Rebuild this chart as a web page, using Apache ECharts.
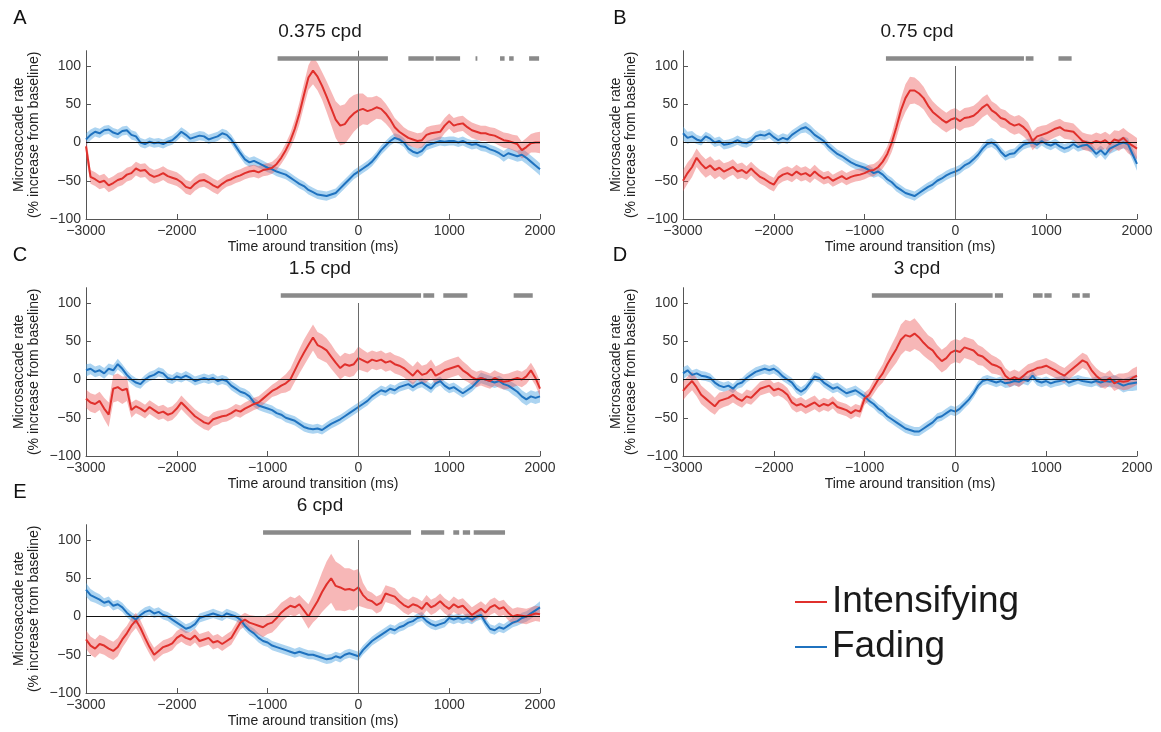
<!DOCTYPE html>
<html>
<head>
<meta charset="utf-8">
<script src="https://cdn.jsdelivr.net/npm/echarts@6/dist/echarts.min.js"></script>
<style>
  html, body { margin: 0; padding: 0; background: #ffffff; }
  #chart { width: 1161px; height: 732px; }
</style>
</head>
<body>
<div id="chart"></div>
<script>
// Microsaccade rate around perceptual transitions (intensifying vs fading),
// one panel per spatial frequency. Samples every 50 ms from -3000 to 2000 ms.
const T_START = -3000;
const T_STEP = 50;

const panelLetters = ['A', 'B', 'C', 'D', 'E'];
const panelTitles = ['0.375 cpd', '0.75 cpd', '1.5 cpd', '3 cpd', '6 cpd'];
const xTickValues = [-3000, -2000, -1000, 0, 1000, 2000];
const yTickValues = [-100, -50, 0, 50, 100];
const seriesNames = ['Intensifying', 'Fading'];

// ---- 0.375 cpd ----
const intensA = [
  -5,-45,-48,-52,-50,-56,-53,-49,-47,-42,
  -40,-34,-37,-36,-42,-45,-43,-40,-44,-46,
  -48,-52,-58,-60,-54,-50,-49,-52,-56,-59,
  -54,-50,-48,-45,-43,-40,-38,-37,-39,-36,
  -35,-33,-28,-20,-10,2,18,38,62,85,
  94,86,74,60,45,30,22,24,32,38,
  42,44,41,43,46,44,38,30,20,14,
  10,6,4,2,3,10,12,13,14,22,
  28,22,24,25,20,16,14,12,12,10,
  9,6,3,2,0,-2,-10,-6,-1,0,
  0];
const intensSemA = [
  14,9,9,9,9,9,9,9,9,9,
  9,9,9,9,9,9,9,9,9,9,
  9,9,9,9,9,9,9,9,9,9,
  8,8,8,8,8,8,8,8,8,8,
  8,8,8,8,9,10,12,14,15,16,
  18,18,18,20,22,24,26,26,26,24,
  22,20,18,16,15,14,13,12,12,12,
  10,10,10,10,10,10,10,10,10,10,
  10,10,10,10,10,10,10,10,10,10,
  10,10,10,10,10,11,11,12,12,13,
  14];
const fadeA = [
  4,10,14,12,16,17,13,11,15,16,
  10,8,0,-2,1,-1,0,-2,1,3,
  8,14,10,5,7,9,8,4,6,8,
  12,10,4,-5,-14,-22,-26,-24,-27,-30,
  -33,-35,-38,-40,-42,-46,-50,-54,-57,-62,
  -65,-68,-69,-70,-68,-66,-60,-54,-48,-42,
  -38,-34,-30,-25,-18,-10,-4,2,6,4,
  0,-8,-12,-14,-11,-4,-2,0,2,1,
  2,2,0,2,-1,-3,-2,-5,-6,-9,
  -11,-14,-18,-14,-16,-18,-16,-20,-25,-30,
  -35];
const fadeSemA = [
  8,7,6,6,6,6,6,6,6,6,
  6,6,6,6,6,6,6,6,6,6,
  6,6,6,6,6,6,6,6,6,6,
  6,6,6,6,6,6,6,6,6,6,
  6,6,6,6,6,6,6,6,6,6,
  6,6,6,6,6,6,6,6,6,6,
  6,6,6,6,6,6,6,6,6,6,
  6,6,6,6,6,6,6,6,6,6,
  6,6,6,6,6,6,6,6,6,6,
  6,6,7,7,7,7,8,8,8,8,
  8];
const sigA = [[-890, 325], [550, 830], [850, 1120], [1290, 1310], [1560, 1610], [1660, 1710], [1880, 1990]];

// ---- 0.75 cpd ----
const intensB = [
  -50,-40,-32,-20,-28,-34,-30,-36,-33,-38,
  -35,-32,-38,-36,-40,-34,-40,-45,-48,-52,
  -55,-46,-42,-40,-43,-38,-42,-40,-44,-38,
  -43,-47,-45,-50,-47,-44,-48,-45,-43,-42,
  -40,-37,-36,-32,-25,-15,0,20,42,58,
  68,68,64,58,48,40,35,30,26,30,
  32,28,32,33,35,40,46,50,42,38,
  32,30,25,22,24,20,14,2,8,10,
  12,15,18,20,16,15,14,8,2,0,
  -1,2,0,3,-2,4,2,6,0,-4,
  -8];
const intensSemB = [
  14,14,13,12,12,12,12,12,11,11,
  10,10,10,10,9,9,9,9,9,9,
  9,9,9,9,9,9,9,9,9,9,
  8,8,8,8,8,8,8,8,8,8,
  8,8,8,8,9,10,12,14,16,18,
  18,17,16,15,14,14,13,13,13,13,
  13,13,13,13,13,13,13,13,12,12,
  12,12,12,12,12,12,12,12,12,12,
  11,11,11,11,11,11,11,11,11,11,
  11,11,11,11,12,12,13,13,14,14,
  14];
const fadeB = [
  12,6,8,4,2,8,5,0,2,-3,
  -2,0,3,0,-1,2,8,10,9,12,
  7,3,6,4,10,14,18,20,16,10,
  6,2,-5,-10,-15,-18,-22,-26,-29,-31,
  -33,-36,-40,-38,-42,-48,-52,-58,-62,-66,
  -68,-70,-66,-62,-58,-55,-50,-47,-43,-40,
  -38,-35,-30,-27,-22,-16,-8,-2,0,-4,
  -12,-18,-15,-14,-8,-3,-1,0,-3,2,
  -2,-4,-1,-5,-8,-6,-2,-6,-4,-3,
  -8,-15,-10,-16,-8,-5,-2,0,-2,-15,
  -28];
const fadeSemB = [
  9,8,7,6,6,6,6,6,6,6,
  6,6,6,6,6,6,6,6,6,6,
  6,6,6,6,6,6,6,7,7,7,
  6,6,6,6,6,6,6,6,6,6,
  6,6,6,6,6,6,6,6,6,6,
  6,6,6,6,6,6,6,6,6,6,
  6,6,6,6,6,6,6,6,6,6,
  6,6,6,6,6,6,6,6,6,6,
  6,6,6,6,6,6,6,6,6,6,
  6,6,6,7,7,7,7,8,8,8,
  9];
const sigB = [[-765, 755], [775, 860], [1135, 1280]];

// ---- 1.5 cpd ----
const intensC = [
  -25,-30,-32,-28,-38,-46,-12,-10,-14,-12,
  -40,-35,-38,-42,-36,-40,-44,-42,-46,-44,
  -38,-30,-36,-42,-48,-52,-56,-58,-52,-50,
  -48,-47,-44,-40,-42,-38,-35,-32,-30,-25,
  -20,-15,-12,-8,-5,0,12,24,35,45,
  55,45,42,38,30,22,15,20,18,20,
  28,25,22,26,24,26,22,24,20,18,
  15,10,5,12,6,8,14,5,8,12,
  14,16,18,12,8,3,0,2,0,-2,
  2,-1,-3,-2,0,2,0,4,12,2,
  -12];
const intensSemC = [
  12,12,12,12,14,16,18,18,18,16,
  10,9,9,9,9,9,9,9,9,9,
  9,9,9,9,9,9,9,9,9,9,
  8,8,8,8,8,8,8,8,8,8,
  8,8,9,10,12,14,15,16,17,17,
  17,17,17,16,16,15,15,15,15,15,
  15,14,13,12,12,12,12,12,12,12,
  12,12,12,12,12,12,12,12,12,12,
  12,12,12,12,11,10,10,10,10,10,
  10,10,10,10,10,10,10,10,10,10,
  10];
const fadeC = [
  12,14,10,12,8,14,12,20,14,6,
  0,-4,-6,0,4,6,10,8,2,0,
  4,2,5,2,-2,0,2,0,2,-2,
  0,-2,-8,-12,-16,-18,-22,-30,-34,-36,
  -38,-40,-44,-46,-50,-52,-54,-58,-62,-64,
  -65,-64,-66,-62,-58,-55,-52,-48,-44,-40,
  -36,-32,-28,-22,-18,-14,-16,-12,-14,-10,
  -8,-6,-10,-6,-4,-8,-12,-5,-2,-8,
  -12,-10,-14,-18,-14,-10,-4,2,0,-2,
  -4,-2,-6,-8,-12,-16,-22,-26,-22,-24,
  -22];
const fadeSemC = [
  8,7,7,7,7,7,7,7,6,6,
  6,6,6,6,6,6,6,6,6,6,
  6,6,6,6,6,6,6,6,6,6,
  6,6,6,6,6,6,6,6,6,6,
  6,6,6,6,6,6,6,6,6,6,
  6,6,6,6,6,6,6,6,6,6,
  6,6,6,6,6,6,6,6,6,6,
  6,6,6,6,6,6,6,6,6,6,
  6,6,6,6,6,6,6,7,7,7,
  7,7,7,7,8,8,8,8,8,8,
  8];
const sigC = [[-855, 690], [715, 835], [935, 1200], [1710, 1920]];

// ---- 3 cpd ----
const intensD = [
  -15,-8,-2,-10,-20,-25,-30,-35,-28,-26,
  -24,-20,-25,-28,-22,-24,-18,-12,-10,-8,
  -14,-12,-15,-20,-30,-34,-32,-36,-33,-30,
  -35,-32,-34,-30,-36,-38,-40,-44,-40,-42,
  -25,-20,-10,0,8,20,30,40,52,58,
  56,60,55,48,42,38,30,24,28,35,
  38,36,42,40,38,32,30,25,20,18,
  15,5,0,3,0,5,10,12,15,16,
  18,15,12,8,5,10,15,20,25,22,
  12,5,0,-2,2,-5,-2,-3,-2,2,
  5];
const intensSemD = [
  12,12,12,12,12,12,12,11,11,10,
  10,10,9,9,9,9,9,9,9,9,
  9,9,9,9,9,9,9,9,9,9,
  8,8,8,8,8,8,8,8,8,8,
  8,8,9,10,12,14,16,18,20,20,
  20,20,18,17,16,16,15,15,15,15,
  15,15,14,14,14,13,12,12,12,11,
  10,10,10,10,10,10,10,10,10,10,
  10,10,10,10,10,10,10,10,10,10,
  10,10,10,10,10,10,10,11,11,12,
  12];
const fadeD = [
  8,12,6,8,5,4,2,-4,-8,-10,
  -8,-12,-6,-4,2,6,10,12,14,12,
  14,10,4,0,-4,-12,-16,-12,-4,4,
  2,-4,-8,-12,-10,-14,-18,-16,-14,-18,
  -22,-28,-32,-38,-42,-48,-52,-56,-60,-64,
  -66,-68,-68,-64,-60,-56,-50,-48,-44,-40,
  -42,-38,-32,-26,-18,-8,-2,0,-2,-4,
  -2,-5,-4,-2,-3,0,-2,5,-2,-4,
  -2,-5,-3,-2,0,-4,-2,0,-2,-3,
  -4,-2,-4,-2,-3,-2,-5,-8,-6,-5,
  -4];
const fadeSemD = [
  8,7,6,6,6,6,6,6,6,6,
  6,6,6,6,6,6,6,6,6,6,
  6,6,6,6,6,6,6,6,6,6,
  6,6,6,6,6,6,6,6,6,6,
  6,6,6,6,6,6,6,6,6,6,
  6,6,6,6,6,6,6,6,6,6,
  6,6,6,6,6,6,6,6,6,6,
  6,6,6,6,6,6,6,6,6,6,
  6,6,6,6,6,6,6,6,6,6,
  6,6,7,7,7,8,8,9,9,10,
  10];
const sigD = [[-920, 410], [435, 525], [855, 960], [980, 1060], [1285, 1370], [1400, 1480]];

// ---- 6 cpd ----
const intensE = [
  -30,-38,-42,-36,-38,-42,-45,-40,-30,-22,
  -12,-5,-15,-28,-40,-50,-45,-40,-38,-35,
  -28,-24,-28,-30,-25,-32,-30,-28,-34,-32,
  -36,-32,-28,-18,-8,-4,-8,-10,-12,-14,
  -10,-8,-2,5,10,14,12,16,8,0,
  10,20,32,42,50,40,38,35,36,34,
  38,28,22,20,15,18,30,28,26,20,
  15,12,16,14,10,18,12,15,20,14,
  10,16,12,14,8,2,6,10,5,12,
  15,10,12,5,0,2,1,0,2,4,
  3];
const intensSemE = [
  12,12,12,12,12,12,12,12,11,10,
  10,10,10,10,9,9,9,9,9,9,
  9,9,9,9,9,9,9,9,9,9,
  9,9,9,9,9,9,10,11,12,13,
  13,13,13,13,12,12,12,12,14,16,
  18,22,26,30,32,32,30,28,27,26,
  24,16,12,11,11,11,11,11,11,10,
  10,10,10,10,10,10,10,10,10,10,
  10,10,10,10,10,10,10,10,10,10,
  10,10,10,10,10,10,10,10,10,10,
  10];
const fadeE = [
  35,28,25,22,18,20,14,16,12,5,
  0,-4,2,6,8,4,6,2,0,-4,
  -8,-12,-16,-14,-10,-2,0,2,4,2,
  0,4,2,0,-4,-12,-18,-22,-28,-32,
  -34,-38,-40,-42,-44,-46,-48,-46,-48,-50,
  -50,-52,-54,-56,-55,-52,-54,-50,-48,-50,
  -52,-44,-38,-32,-28,-24,-20,-16,-18,-14,
  -12,-8,-6,-2,0,-6,-10,-12,-10,-8,
  -2,-4,-2,-4,-2,-4,0,2,-8,-16,
  -18,-14,-16,-12,-8,-6,-2,0,4,8,
  12];
const fadeSemE = [
  9,8,7,7,6,6,6,6,6,6,
  6,6,6,6,6,6,6,6,6,6,
  6,6,6,6,6,6,6,6,6,6,
  6,6,6,6,6,6,6,6,6,6,
  6,6,6,6,6,6,6,6,6,6,
  6,6,6,6,6,6,6,6,6,6,
  6,6,6,6,6,6,6,6,6,6,
  6,6,6,6,6,6,6,6,6,6,
  6,6,6,6,6,6,6,6,6,6,
  6,6,6,6,6,6,7,7,7,7,
  8];
const sigE = [[-1050, 580], [690, 945], [1045, 1110], [1150, 1230], [1270, 1615]];

// ---- layout and styling ----
const FONT = '"Liberation Sans", Arial, Helvetica, sans-serif';
const RED = '#e0302c';
const BLUE = '#1f72bf';
const RED_BAND = 'rgba(236, 84, 84, 0.42)';
const BLUE_BAND = 'rgba(70, 160, 225, 0.45)';

const panels = [
  { red: intensA, redSem: intensSemA, blue: fadeA, blueSem: fadeSemA, sig: sigA, vTop: 120 },
  { red: intensB, redSem: intensSemB, blue: fadeB, blueSem: fadeSemB, sig: sigB, vTop: 100 },
  { red: intensC, redSem: intensSemC, blue: fadeC, blueSem: fadeSemC, sig: sigC, vTop: 100 },
  { red: intensD, redSem: intensSemD, blue: fadeD, blueSem: fadeSemD, sig: sigD, vTop: 100 },
  { red: intensE, redSem: intensSemE, blue: fadeE, blueSem: fadeSemE, sig: sigE, vTop: 100 }
];

const PLOT_W = 454, PLOT_H = 168.3;
const gridPos = [[86, 50.7], [683, 50.7], [86, 287.7], [683, 287.7], [86, 524.7]];
const letterPos = [[20, 18], [620, 18], [20, 255], [620, 255], [20, 492]];

const tAt = i => T_START + i * T_STEP;
const minus = v => String(v).replace('-', '\u2212');

const grids = [], xAxes = [], yAxes = [], series = [], graphics = [];

// error band: one polygon running along the upper edge and back along the lower edge
function bandSeries(k, vals, sem, fill) {
  const rows = vals.map((v, i) => [tAt(i), v - sem[i], v + sem[i]]);
  return {
    type: 'custom', xAxisIndex: k, yAxisIndex: k, silent: true, z: 1, clip: true,
    data: rows,
    encode: { x: 0, y: [1, 2] },
    renderItem: (params, api) => {
      if (params.dataIndex !== 0) return null;
      const upper = rows.map(r => api.coord([r[0], r[2]]));
      const lower = rows.map(r => api.coord([r[0], r[1]])).reverse();
      return {
        type: 'polygon',
        shape: { points: upper.concat(lower) },
        style: { fill: fill, stroke: null }
      };
    }
  };
}

panels.forEach((p, k) => {
  const [gl, gt] = gridPos[k];
  grids.push({ left: gl, top: gt, width: PLOT_W, height: PLOT_H, outerBoundsMode: 'none', containLabel: false });

  xAxes.push({
    type: 'value', gridIndex: k, min: -3000, max: 2000, interval: 1000,
    axisLine: { show: true, onZero: false, lineStyle: { color: '#555', width: 1 } },
    axisTick: { show: true, inside: true, length: 5, customValues: xTickValues, lineStyle: { color: '#555' } },
    splitLine: { show: false },
    axisLabel: { color: '#333', fontSize: 14, fontFamily: FONT, margin: 5, customValues: xTickValues, formatter: minus },
    name: 'Time around transition (ms)', nameLocation: 'middle', nameGap: 21,
    nameTextStyle: { color: '#222', fontSize: 14, fontFamily: FONT }
  });

  yAxes.push({
    type: 'value', gridIndex: k, min: -100, max: 120, interval: 50,
    axisLine: { show: true, onZero: false, lineStyle: { color: '#555', width: 1 } },
    axisTick: { show: true, inside: true, length: 5, customValues: yTickValues, lineStyle: { color: '#555' } },
    splitLine: { show: false },
    axisLabel: { color: '#333', fontSize: 14, fontFamily: FONT, margin: 5, customValues: yTickValues, formatter: minus },
    name: 'Microsaccade rate\n(% increase from baseline)', nameLocation: 'middle', nameRotate: 90, nameGap: 44,
    nameTextStyle: { color: '#222', fontSize: 14, lineHeight: 15, fontFamily: FONT }
  });

  series.push(bandSeries(k, p.blue, p.blueSem, BLUE_BAND));
  series.push(bandSeries(k, p.red, p.redSem, RED_BAND));

  series.push({
    type: 'line', name: seriesNames[1], xAxisIndex: k, yAxisIndex: k, symbol: 'none', z: 2,
    data: p.blue.map((v, i) => [tAt(i), v]),
    lineStyle: { color: BLUE, width: 2 }, itemStyle: { color: BLUE }, emphasis: { disabled: true }
  });

  // reference lines and significance bars drawn above the traces
  const marks = [
    [{ coord: [-3000, 0], lineStyle: { color: '#111', width: 1.2 } }, { coord: [2000, 0] }],
    [{ coord: [0, -100], lineStyle: { color: '#6a6a6a', width: 1 } }, { coord: [0, p.vTop] }]
  ];
  p.sig.forEach(([s, e]) => {
    marks.push([{ coord: [s, 110], lineStyle: { color: '#8a8a8a', width: 4.5, cap: 'butt' } }, { coord: [e, 110] }]);
  });

  series.push({
    type: 'line', name: seriesNames[0], xAxisIndex: k, yAxisIndex: k, symbol: 'none', z: 3,
    data: p.red.map((v, i) => [tAt(i), v]),
    lineStyle: { color: RED, width: 2 }, itemStyle: { color: RED }, emphasis: { disabled: true },
    markLine: {
      silent: true, symbol: ['none', 'none'], animation: false,
      label: { show: false }, emphasis: { disabled: true },
      lineStyle: { type: 'solid' },
      data: marks
    }
  });

  const [lx, ly] = letterPos[k];
  graphics.push({
    type: 'text', x: lx, y: ly,
    style: { text: panelLetters[k], font: '20px ' + FONT, fill: '#111', align: 'center', verticalAlign: 'middle' }
  });
  graphics.push({
    type: 'text', x: gl + PLOT_W / 2 + 7, y: gt - 18.5,
    style: { text: panelTitles[k], font: '19px ' + FONT, fill: '#1a1a1a', align: 'center', verticalAlign: 'middle' }
  });
});

const chart = echarts.init(document.getElementById('chart'), null, { renderer: 'canvas' });
chart.setOption({
  backgroundColor: '#ffffff',
  animation: false,
  grid: grids,
  xAxis: xAxes,
  yAxis: yAxes,
  series: series,
  graphic: graphics,
  legend: {
    data: seriesNames, orient: 'vertical', left: 790, top: 577,
    icon: 'rect', itemWidth: 32, itemHeight: 2, itemGap: 5, selectedMode: false,
    textStyle: { fontSize: 37, lineHeight: 40, color: '#1a1a1a', fontFamily: FONT }
  }
});
</script>
</body>
</html>
